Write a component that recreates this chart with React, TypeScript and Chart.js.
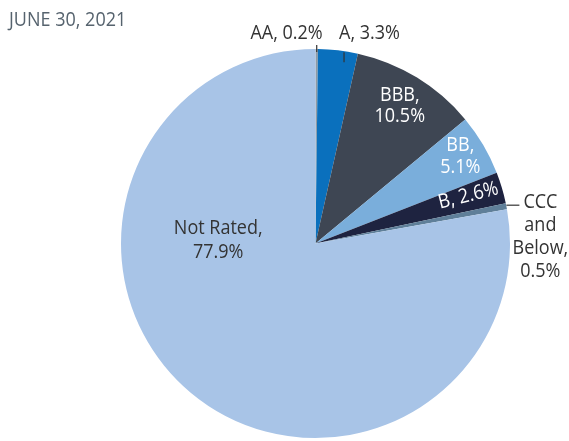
import React, { useEffect, useRef } from "react";
import { Chart, registerables } from "chart.js";

Chart.register(...registerables);

const title = "JUNE 30, 2021";
const categories = ["AA", "A", "BBB", "BB", "B", "CCC and Below", "Not Rated"];
const values = [0.2, 3.3, 10.5, 5.1, 2.6, 0.5, 77.9];
const labelLines = [
  ["AA, 0.2%"],
  ["A, 3.3%"],
  ["BBB,", "10.5%"],
  ["BB,", "5.1%"],
  ["B, 2.6%"],
  ["CCC", "and", "Below,", "0.5%"],
  ["Not Rated,", "77.9%"],
];
const colors = ["#8e9aa5", "#0a70bd", "#3e4653", "#7aaedb", "#1e2340", "#5f7f99", "#a8c4e7"];

type LabelCfg = {
  frac: number; dx: number; dy: number; align: CanvasTextAlign; color: string;
  rot?: number; lh: number; top?: boolean; leader?: [number, number, number, number];
};
const labelCfg: LabelCfg[] = [
  { frac: 1, dx: 6, dy: -16, align: "right", color: "#333333", lh: 22, leader: [0, -4, 0, 3] },
  { frac: 1, dx: 1, dy: -17, align: "left", color: "#333333", lh: 22, leader: [6, 2, 6, 12] },
  { frac: 0.83, dx: 0, dy: 0, align: "center", color: "#ffffff", lh: 21 },
  { frac: 0.87, dx: -1, dy: -1, align: "center", color: "#ffffff", lh: 22 },
  { frac: 0.82, dx: 0, dy: -2, align: "center", color: "#ffffff", lh: 22, rot: -14 },
  { frac: 1, dx: 34, dy: -3.5, align: "center", color: "#333333", lh: 23, top: true, leader: [0, -1, 13, -1] },
  { frac: 0.5, dx: 0, dy: 0, align: "center", color: "#333333", lh: 24 },
];

const FONT = "20px 'Open Sans'";
const SX = 0.9;

const labelPlugin = {
  id: "sliceLabels",
  afterDatasetsDraw(chart: any) {
    const ctx = chart.ctx;
    const meta = chart.getDatasetMeta(0);
    ctx.save();
    ctx.font = FONT;
    ctx.textBaseline = "middle";
    meta.data.forEach((arc: any, i: number) => {
      const cfg = labelCfg[i];
      const mid = (arc.startAngle + arc.endAngle) / 2;
      const R = arc.outerRadius;
      let ax: number, ay: number;
      if (i === 6) {
        ax = arc.x - R * 0.5;
        ay = arc.y - 3;
      } else {
        ax = arc.x + Math.cos(mid) * R * cfg.frac;
        ay = arc.y + Math.sin(mid) * R * cfg.frac;
      }
      if (cfg.leader) {
        const [x1, y1, x2, y2] = cfg.leader;
        ctx.strokeStyle = "#333333";
        ctx.lineWidth = 1.2;
        ctx.beginPath();
        ctx.moveTo(ax + x1, ay + y1);
        ctx.lineTo(ax + x2, ay + y2);
        ctx.stroke();
      }
      const lines = labelLines[i];
      const tx = ax + cfg.dx;
      const ty = ay + cfg.dy;
      ctx.save();
      ctx.translate(tx, ty);
      if (cfg.rot) ctx.rotate((cfg.rot * Math.PI) / 180);
      ctx.scale(SX, 1);
      ctx.fillStyle = cfg.color;
      ctx.textAlign = cfg.align;
      const n = lines.length;
      const offset = cfg.top ? 0 : -((n - 1) * cfg.lh) / 2;
      lines.forEach((t, k) => ctx.fillText(t, 0, offset + k * cfg.lh));
      ctx.restore();
    });
    ctx.restore();

    ctx.save();
    ctx.font = FONT;
    ctx.fillStyle = "#56636e";
    ctx.textAlign = "left";
    ctx.textBaseline = "alphabetic";
    ctx.translate(9, 26);
    ctx.scale(SX, 1);
    ctx.fillText(title, 0, 0);
    ctx.restore();
  },
};

export default function App() {
  const ref = useRef<HTMLCanvasElement>(null);
  useEffect(() => {
    if (!ref.current) return;
    const chart = new Chart(ref.current, {
      type: "pie",
      data: {
        labels: categories,
        datasets: [
          {
            data: values,
            backgroundColor: colors,
            borderWidth: 0,
          },
        ],
      },
      options: {
        animation: false,
        responsive: false,
        maintainAspectRatio: false,
        devicePixelRatio: 1,
        layout: { padding: { top: 49, bottom: 3, left: 121, right: 59 } },
        plugins: {
          legend: { display: false },
          tooltip: { enabled: false },
          title: { display: false },
        },
      },
      plugins: [labelPlugin],
    });
    return () => chart.destroy();
  }, []);
  return (
    <div style={{ position: "fixed", left: 0, top: 0, width: 569, height: 441, background: "#ffffff" }}>
      <canvas ref={ref} width={569} height={441} style={{ width: 569, height: 441, display: "block" }} />
    </div>
  );
}
